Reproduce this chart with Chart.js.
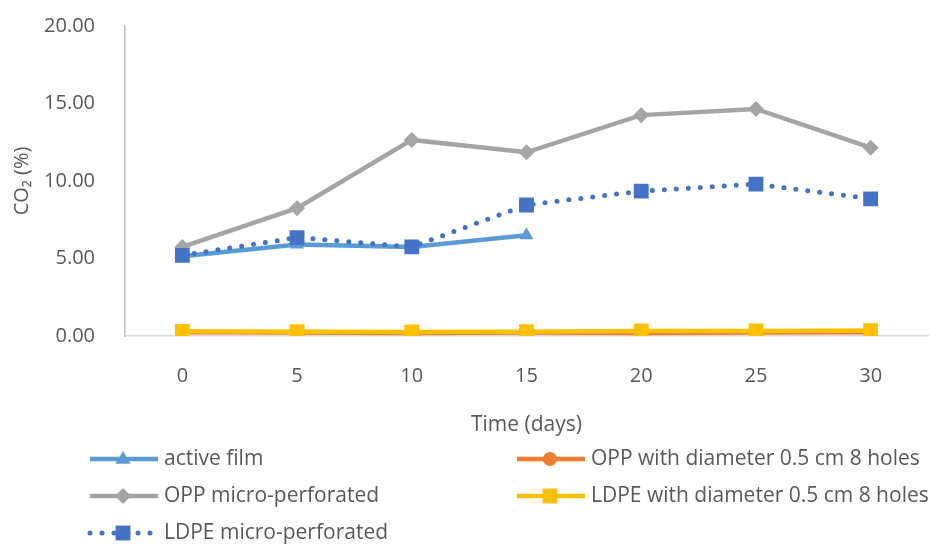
<!DOCTYPE html>
<html>
<head>
<meta charset="utf-8">
<script src="https://cdn.jsdelivr.net/npm/chart.js@4.4.1/dist/chart.umd.min.js"></script>
<style>
  html, body { margin: 0; padding: 0; background: #fff; }
  #co2Chart { display: block; }
</style>
</head>
<body>
<canvas id="co2Chart" width="939" height="547"></canvas>
<script>
// CO2 in the package headspace over storage time
const days = ['0', '5', '10', '15', '20', '25', '30'];
const activeFilm = [5.15, 5.9, 5.75, 6.5, null, null, null];
const oppHoles = [0.24, 0.22, 0.2, 0.22, 0.2, 0.22, 0.24];
const oppMicro = [5.75, 8.25, 12.65, 11.85, 14.25, 14.65, 12.15];
const ldpeHoles = [0.3, 0.28, 0.26, 0.28, 0.32, 0.33, 0.35];
const ldpeMicro = [5.2, 6.35, 5.75, 8.45, 9.35, 9.8, 8.85];
const yTicks = [0, 5, 10, 15, 20];

const textColor = '#595959';
const fontFamily = '"Open Sans", Lato, sans-serif';

const datasets = [
  { label: 'active film', data: activeFilm, borderColor: '#5B9BD5', backgroundColor: '#5B9BD5',
    pointStyle: 'triangle', pointRadius: 8, order: 5 },
  { label: 'OPP with diameter 0.5 cm 8 holes', data: oppHoles, borderColor: '#ED7D31', backgroundColor: '#ED7D31',
    pointStyle: 'circle', pointRadius: 7, order: 4 },
  { label: 'OPP micro-perforated', data: oppMicro, borderColor: '#A5A5A5', backgroundColor: '#A5A5A5',
    pointStyle: 'rectRot', pointRadius: 8, order: 3 },
  { label: 'LDPE with diameter 0.5 cm 8 holes', data: ldpeHoles, borderColor: '#FFC000', backgroundColor: '#FFC000',
    pointStyle: 'rect', pointRadius: 10.5, order: 2 },
  { label: 'LDPE micro-perforated', data: ldpeMicro, borderColor: '#4472C4', backgroundColor: '#4472C4',
    pointStyle: 'rect', pointRadius: 10.5, order: 1, borderDash: [0, 12], borderCapStyle: 'round' }
];
datasets.forEach(d => {
  d.borderWidth = d.borderDash ? 5 : 4.5;
  d.pointBorderWidth = 0;
  d.pointHoverRadius = d.pointRadius;
  d.tension = 0;
  d.spanGaps = false;
});

function drawMarker(ctx, style, r, x, y) {
  ctx.beginPath();
  if (style === 'triangle') {
    ctx.moveTo(x, y - r);
    ctx.lineTo(x + r * 0.95, y + r * 0.6);
    ctx.lineTo(x - r * 0.95, y + r * 0.6);
  } else if (style === 'circle') {
    ctx.arc(x, y, r, 0, Math.PI * 2);
  } else if (style === 'rectRot') {
    ctx.moveTo(x, y - r);
    ctx.lineTo(x + r, y);
    ctx.lineTo(x, y + r);
    ctx.lineTo(x - r, y);
  } else {
    const s = r / Math.SQRT2;
    ctx.rect(x - s, y - s, s * 2, s * 2);
  }
  ctx.closePath();
  ctx.fill();
}

// two-column legend under the x axis
const columnLegend = {
  id: 'columnLegend',
  afterDraw(chart) {
    const ctx = chart.ctx;
    const cols = [88, 515];
    const rows = [459, 496, 533];
    ctx.save();
    chart.data.datasets.forEach((ds, i) => {
      const x = cols[i % 2];
      const y = rows[Math.floor(i / 2)];
      ctx.strokeStyle = ds.borderColor;
      ctx.fillStyle = ds.backgroundColor;
      ctx.lineWidth = ds.borderWidth;
      ctx.lineCap = ds.borderCapStyle || 'butt';
      ctx.setLineDash(ds.borderDash || []);
      ctx.beginPath();
      ctx.moveTo(x + 2, y);
      ctx.lineTo(x + 70, y);
      ctx.stroke();
      ctx.setLineDash([]);
      drawMarker(ctx, ds.pointStyle, ds.pointRadius, x + 35, y);
      ctx.fillStyle = textColor;
      ctx.font = '21px ' + fontFamily;
      ctx.textBaseline = 'middle';
      ctx.textAlign = 'left';
      ctx.fillText(ds.label, x + 76, y);
    });
    ctx.restore();
  }
};

new Chart(document.getElementById('co2Chart'), {
  type: 'line',
  data: { labels: days, datasets: datasets },
  options: {
    responsive: false,
    animation: false,
    layout: { autoPadding: false, padding: { left: 0, top: 26, right: 11, bottom: 107 } },
    plugins: {
      legend: { display: false },
      tooltip: { enabled: false }
    },
    scales: {
      x: {
        offset: true,
        grid: { display: false, drawTicks: false },
        border: { display: true, color: '#D9D9D9', width: 1.5 },
        ticks: { color: textColor, font: { family: fontFamily, size: 20 }, padding: 28 },
        title: { display: true, text: 'Time (days)', color: textColor,
                 font: { family: fontFamily, size: 21 }, padding: { top: 18, bottom: 2 } },
        afterFit(scale) { scale.height = 104; }
      },
      y: {
        min: 0,
        max: 20,
        afterBuildTicks(scale) { scale.ticks = yTicks.map(v => ({ value: v })); },
        grid: { display: false, drawTicks: false },
        border: { display: true, color: '#BFBFBF', width: 1.5 },
        ticks: { color: textColor, font: { family: fontFamily, size: 20 }, padding: 30,
                 callback: v => v.toFixed(2) },
        title: { display: true, text: 'CO₂ (%)', color: textColor,
                 font: { family: fontFamily, size: 20 }, padding: { top: 10, bottom: 0 } },
        afterFit(scale) {
          scale.width = 125;
          scale.paddingTop = 0;
          scale.paddingBottom = 0;
        }
      }
    }
  },
  plugins: [columnLegend]
});
</script>
</body>
</html>
